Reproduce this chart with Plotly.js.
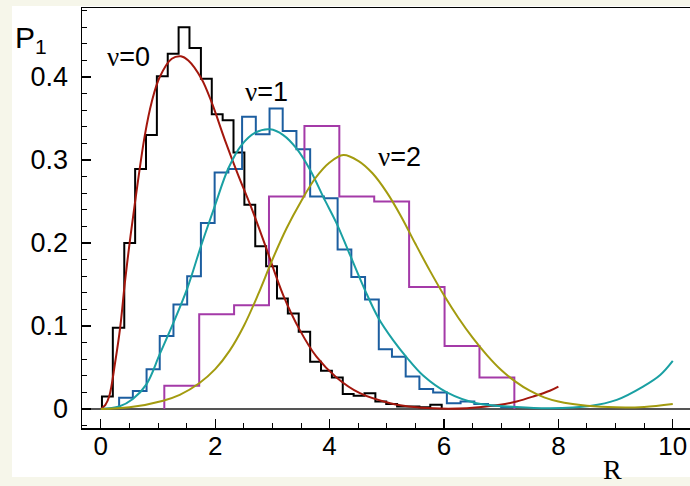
<!DOCTYPE html>
<html><head><meta charset="utf-8">
<script src="https://cdn.plot.ly/plotly-3.0.1.min.js"></script>
<style>
html,body{margin:0;padding:0;background:#f6f6ea;overflow:hidden;width:690px;height:486px}
#plot{position:absolute;left:0;top:0;width:690px;height:486px}
</style>
</head><body><div id="plot"></div>
<script>
// ---- histogram data (bin edges in R, heights P1) ----
const blackEdges = [0.02,0.21,0.41,0.60,0.79,0.98,1.17,1.36,1.55,1.75,1.94,2.13,2.32,2.51,2.70,2.89,3.08,3.27,3.46,3.66,3.85,4.04,4.23,4.42,4.61,4.80,4.99,5.18,5.37,5.57,5.76,5.96];
const blackHeights = [0.015,0.098,0.200,0.289,0.330,0.401,0.428,0.460,0.435,0.398,0.355,0.348,0.309,0.246,0.196,0.172,0.133,0.115,0.093,0.057,0.046,0.038,0.018,0.016,0.019,0.009,0.006,0.003,0.003,0.002,0.005];

const blueEdges = [0.32,0.56,0.80,1.03,1.27,1.51,1.75,1.99,2.23,2.47,2.71,2.95,3.18,3.42,3.66,3.90,4.14,4.38,4.62,4.86,5.09,5.33,5.57,5.81,6.05,6.29,6.53,6.77,7.00,7.24];
const blueHeights = [0.0136,0.0217,0.048,0.088,0.126,0.160,0.224,0.285,0.289,0.352,0.331,0.362,0.335,0.313,0.256,0.254,0.192,0.159,0.132,0.072,0.063,0.039,0.024,0.020,0.007,0.009,0.006,0.004,0.002];

const purpleEdges = [1.11,1.72,2.33,2.94,3.56,4.17,4.78,5.39,6.01,6.62,7.23];
const purpleHeights = [0.028,0.114,0.125,0.256,0.341,0.256,0.250,0.147,0.076,0.038];

// ---- fitted curves ----
const redR = [0,0.08,0.15,0.25,0.34,0.42,0.5,0.6,0.77,0.89,1.03,1.24,1.4,1.53,1.76,1.94,2.17,2.4,2.64,2.87,3.19,3.48,3.77,4.12,4.53,5.06,5.52,5.93,6.4,6.98,7.27,7.56,7.85,8.0];
const redP = [0,0.005,0.016,0.056,0.099,0.152,0.198,0.25,0.33,0.37,0.40,0.422,0.425,0.42,0.398,0.369,0.324,0.282,0.241,0.198,0.137,0.095,0.063,0.038,0.019,0.007,0.002,0.0005,0.001,0.005,0.009,0.015,0.022,0.027];

const cyanR = [0,0.32,0.56,0.8,1.03,1.27,1.51,1.75,2.0,2.23,2.46,2.7,2.96,3.19,3.42,3.66,3.9,4.12,4.33,4.62,4.85,5.11,5.35,5.64,6.05,6.57,7.27,7.85,8.55,9.02,9.48,9.78,10.0];
const cyanP = [0,0.003,0.012,0.03,0.066,0.104,0.145,0.196,0.246,0.29,0.318,0.333,0.337,0.33,0.314,0.288,0.254,0.224,0.19,0.143,0.11,0.083,0.062,0.04,0.02,0.007,0.0025,0.001,0.0036,0.011,0.027,0.041,0.058];

const oliveR = [0,0.5,1.09,1.38,1.72,2.0,2.25,2.5,2.75,3.0,3.25,3.5,3.75,4.0,4.24,4.5,4.75,5.0,5.25,5.5,5.75,6.0,6.25,6.5,6.75,7.0,7.25,7.5,7.75,8.0,8.5,9.0,9.5,10.0];
const oliveP = [0,0.002,0.01,0.017,0.031,0.048,0.07,0.1,0.138,0.18,0.218,0.25,0.278,0.297,0.306,0.299,0.284,0.261,0.232,0.199,0.167,0.137,0.11,0.086,0.065,0.047,0.033,0.022,0.014,0.009,0.004,0.002,0.0025,0.006];

// ---- labels ----
const xTickVals = [0,2,4,6,8,10];
const yTickVals = [0,0.1,0.2,0.3,0.4];
const yTickText = ['0','0.1','0.2','0.3','0.4'];
const curveLabels = ['ν=0','ν=1','ν=2'];
const curveLabelR = [0.48,2.89,5.23];
const curveLabelP = [0.424,0.382,0.304];

function stepTrace(edges, heights, color){
  const x=[edges[0]], y=[0];
  for(let i=0;i<heights.length;i++){ x.push(edges[i]); y.push(heights[i]); }
  x.push(edges[heights.length]); y.push(0);
  return {x, y, type:'scatter', mode:'lines', line:{shape:'hv', color, width:2}, hoverinfo:'skip'};
}
function curveTrace(xs, ys, color){
  return {x:xs, y:ys, type:'scatter', mode:'lines', line:{shape:'spline', smoothing:1, color, width:2}, hoverinfo:'skip'};
}

const traces = [
  stepTrace(blackEdges, blackHeights, '#000000'),
  stepTrace(blueEdges, blueHeights, '#1c5ea0'),
  stepTrace(purpleEdges, purpleHeights, '#a43aa8'),
  curveTrace(redR, redP, '#a3170d'),
  curveTrace(cyanR, cyanP, '#1aa0a3'),
  curveTrace(oliveR, oliveP, '#a39b0f')
];

const font = 'Liberation Sans, Arial, Helvetica, sans-serif';
const ann = curveLabels.map((t,i)=>({
  x: curveLabelR[i], y: curveLabelP[i], xref:'x', yref:'y',
  text: '<span style="font-family:Liberation Serif">'+t.charAt(0)+'</span>'+t.slice(1),
  showarrow:false, font:{family:font, size:27, color:'#000'}
}));
ann.push({x:-0.114, y:0.926, xref:'paper', yref:'paper', xanchor:'left', yanchor:'middle',
  text:'P<sub>1</sub>', showarrow:false, font:{family:font, size:30, color:'#000'}});
ann.push({x:0.872, y:-0.098, xref:'paper', yref:'paper', xanchor:'center', yanchor:'middle',
  text:'R', showarrow:false, font:{family:'Liberation Serif, Times New Roman, serif', size:28, color:'#000'}});

const layout = {
  width:690, height:486,
  margin:{l:82, r:0, t:8, b:58},
  paper_bgcolor:'rgba(0,0,0,0)', plot_bgcolor:'#ffffff',
  showlegend:false,
  font:{family:font, size:26, color:'#000'},
  shapes:[{type:'rect', xref:'paper', yref:'paper', x0:-0.1151, x1:1.0, y0:-0.1167, y1:1.0048,
    fillcolor:'#ffffff', line:{width:0}, layer:'below'}],
  xaxis:{
    range:[-0.329, 10.301], tickmode:'array', tickvals:xTickVals, ticktext:xTickVals.map(String),
    ticks:'inside', ticklen:9, tickwidth:1.2, tickcolor:'#000',
    minor:{tickmode:'linear', tick0:0, dtick:0.5, ticks:'inside', ticklen:5, tickwidth:1, tickcolor:'#000'},
    showline:true, mirror:true, linecolor:'#000', linewidth:1.5,
    showgrid:false, zeroline:false, tickfont:{family:font, size:26}, ticklabelstandoff:-6
  },
  yaxis:{
    range:[-0.0229, 0.4831], tickmode:'array', tickvals:yTickVals, ticktext:yTickText,
    ticks:'inside', ticklen:9, tickwidth:1.2, tickcolor:'#000',
    minor:{tickmode:'linear', tick0:0, dtick:0.02, ticks:'inside', ticklen:5, tickwidth:1, tickcolor:'#000'},
    showline:true, mirror:false, linecolor:'#000', linewidth:1.5,
    showgrid:false, zeroline:true, zerolinecolor:'#555', zerolinewidth:1.5,
    tickfont:{family:font, size:27}, ticklabelstandoff:7
  },
  annotations: ann
};

Plotly.newPlot('plot', traces, layout, {staticPlot:true, displayModeBar:false});
</script></body></html>
